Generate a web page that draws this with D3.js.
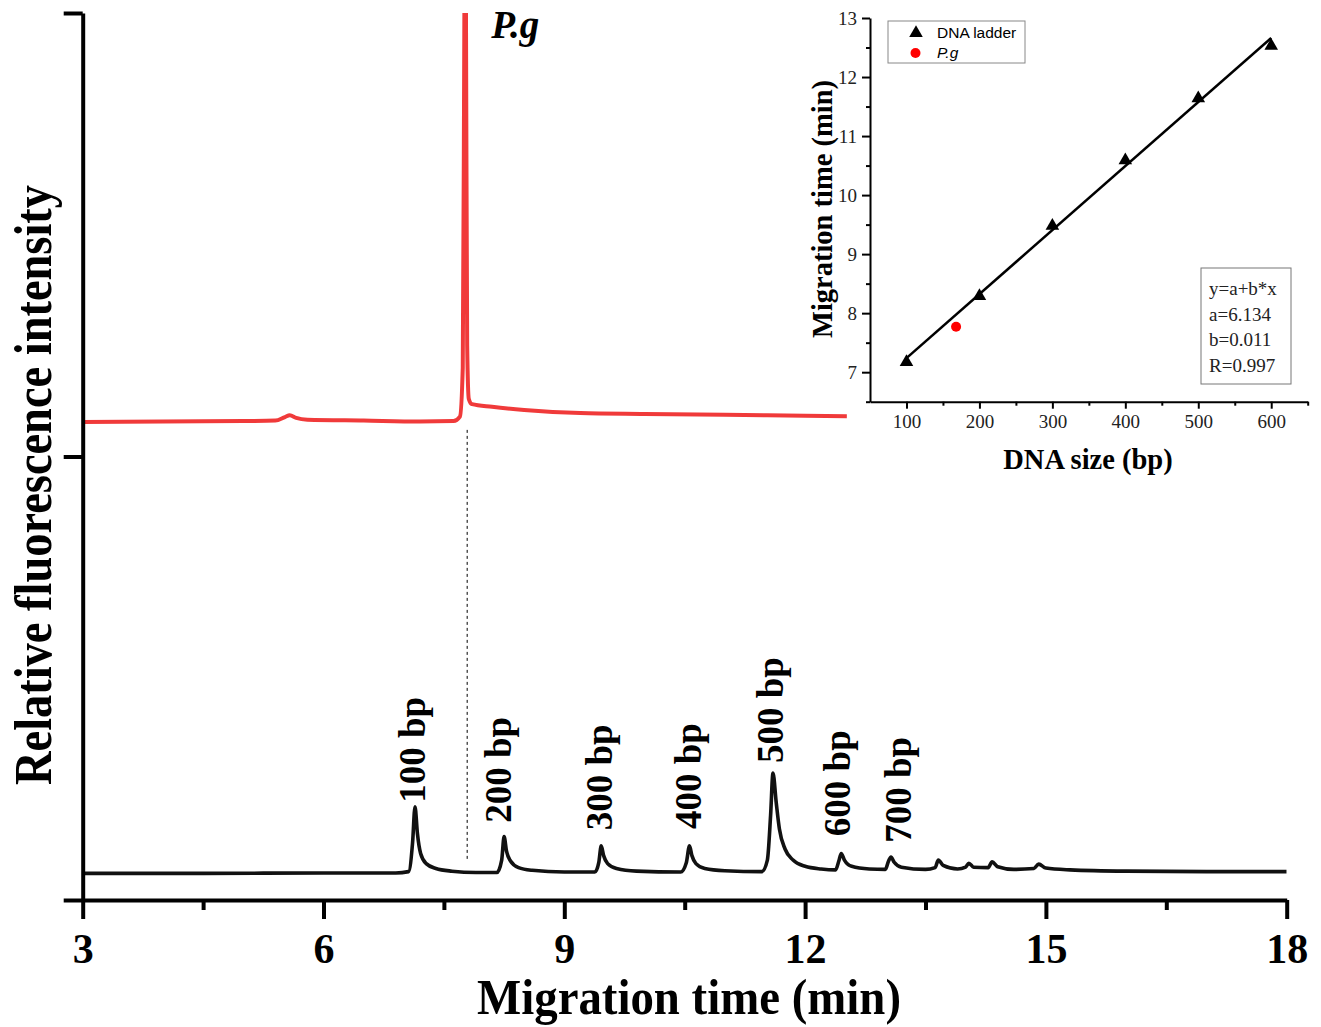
<!DOCTYPE html>
<html>
<head>
<meta charset="utf-8">
<script src="https://cdn.jsdelivr.net/npm/d3@7"></script>
<style>
  body { margin: 0; background: #fff; }
  svg { display: block; }
  .serif { font-family: "Liberation Serif", "Times New Roman", serif; }
</style>
</head>
<body>
<svg id="chart" width="1321" height="1027"></svg>
<script>
// main electropherogram: time (min) vs relative intensity
const xTicks = [3, 6, 9, 12, 15, 18];
const xMinor = [4.5, 7.5, 10.5, 13.5, 16.5];
const yTicks = [0, 100, 200];

// ladder trace (black)
const ladderTrace = [
  [3.0, 6.0], [4.5, 6.0], [6.0, 6.1], [6.9, 6.1], [7.06, 6.4], [7.11, 13], [7.14, 21.0],
  [7.17, 15], [7.21, 10.5], [7.28, 8.2], [7.40, 7.1], [7.60, 6.5], [7.90, 6.2],
  [8.16, 6.2], [8.22, 9.0], [8.25, 14.3], [8.28, 11.0], [8.33, 8.8], [8.43, 7.3],
  [8.60, 6.7], [9.00, 6.3], [9.38, 6.3], [9.43, 8.5], [9.46, 12.2], [9.49, 10.0],
  [9.54, 8.2], [9.65, 7.1], [9.90, 6.5], [10.45, 6.3], [10.52, 8.4], [10.56, 12.2],
  [10.59, 10.0], [10.64, 8.2], [10.75, 7.1], [11.0, 6.6], [11.46, 6.4], [11.53, 9.0],
  [11.57, 19.0], [11.60, 28.6], [11.64, 22.0], [11.68, 16.0], [11.75, 11.5],
  [11.85, 9.0], [12.0, 7.6], [12.2, 7.0], [12.38, 6.8], [12.42, 8.8], [12.45, 10.5],
  [12.49, 9.0], [12.58, 7.6], [12.8, 7.0], [13.0, 6.9], [13.04, 8.8], [13.07, 9.7],
  [13.11, 8.5], [13.2, 7.4], [13.5, 6.9], [13.62, 7.3], [13.66, 9.0], [13.72, 7.8],
  [13.9, 7.0], [14.0, 7.4], [14.04, 8.3], [14.10, 7.4], [14.28, 7.3], [14.33, 8.6],
  [14.40, 7.5], [14.6, 6.9], [14.85, 7.1], [14.91, 8.1], [15.0, 7.2], [15.3, 6.8],
  [16.0, 6.5], [17.0, 6.4], [18.0, 6.4]
];

// P.g sample trace (red)
const sampleTrace = [
  [3.0, 107.8], [4.0, 107.9], [5.0, 108.0], [5.40, 108.1], [5.52, 108.9], [5.58, 109.3],
  [5.66, 108.7], [5.80, 108.3], [6.5, 108.1], [7.2, 107.9], [7.62, 108.0], [7.70, 109.0],
  [7.735, 120], [7.755, 200], [7.765, 240], [7.775, 200], [7.79, 125], [7.81, 113],
  [7.85, 111.8], [8.1, 111.2], [8.5, 110.5], [9.2, 109.8], [10.0, 109.6], [11.0, 109.4],
  [12.0, 109.2], [12.52, 109.1]
];
const pgPeakTime = 7.79;

const peakLabels = ["100 bp", "200 bp", "300 bp", "400 bp", "500 bp", "600 bp", "700 bp"];
const labelTime = [7.264, 8.336, 9.594, 10.703, 11.725, 12.559, 13.319];
const labelLevel = [21.9, 17.4, 15.7, 16.0, 30.9, 14.4, 12.9];

// inset: calibration curve
const ladderSize = [100, 200, 300, 400, 500, 600];
const ladderTime = [7.17, 8.29, 9.48, 10.59, 11.64, 12.53];
const pgSize = [168];
const pgTime = [7.77];
const insetXTicks = [100, 200, 300, 400, 500, 600];
const insetXMinor = [150, 250, 350, 450, 550, 650];
const insetYTicks = [7, 8, 9, 10, 11, 12, 13];
const insetYMinor = [6.5, 7.5, 8.5, 9.5, 10.5, 11.5, 12.5];
const fitText = ["y=a+b*x", "a=6.134", "b=0.011", "R=0.997"];

const svg = d3.select("#chart");
const red = "#f03a3a";

// ---------- main chart ----------
const x = d3.scaleLinear().domain([3, 18]).range([82.7, 1286.7]);
const y = d3.scaleLinear().domain([0, 200]).range([900, 13]);

svg.append("defs").append("clipPath").attr("id", "plotClip")
  .append("rect")
  .attr("x", x(3)).attr("y", y(200))
  .attr("width", x(18) - x(3)).attr("height", y(0) - y(200));

const line = d3.line().x(d => x(d[0])).y(d => y(d[1])).curve(d3.curveMonotoneX);

// dotted guide under the P.g peak
svg.append("line")
  .attr("x1", x(pgPeakTime)).attr("x2", x(pgPeakTime))
  .attr("y1", y(106)).attr("y2", y(9))
  .attr("stroke", "#000").attr("stroke-width", 1)
  .attr("stroke-dasharray", "3,3");

svg.append("path")
  .datum(ladderTrace)
  .attr("d", line)
  .attr("clip-path", "url(#plotClip)")
  .attr("fill", "none").attr("stroke", "#111")
  .attr("stroke-width", 3.6).attr("stroke-linejoin", "round");

svg.append("path")
  .datum(sampleTrace)
  .attr("d", line)
  .attr("clip-path", "url(#plotClip)")
  .attr("fill", "none").attr("stroke", red)
  .attr("stroke-width", 4).attr("stroke-linejoin", "round");

// axes
const xAxis = svg.append("g")
  .attr("transform", `translate(0,${y(0)})`)
  .call(d3.axisBottom(x).tickValues(xTicks).tickSize(19).tickSizeOuter(0).tickFormat(d3.format("d")));
svg.append("g")
  .attr("transform", `translate(0,${y(0)})`)
  .call(d3.axisBottom(x).tickValues(xMinor).tickSize(10).tickSizeOuter(0).tickFormat(""))
  .call(g => g.select(".domain").remove());
svg.append("g")
  .attr("transform", `translate(${x(3)},0)`)
  .call(d3.axisLeft(y).tickValues(yTicks).tickSize(19).tickSizeOuter(0).tickFormat(""));

svg.selectAll(".domain").attr("stroke", "#000").attr("stroke-width", 4);
svg.selectAll(".tick line").attr("stroke", "#000").attr("stroke-width", 4);

xAxis.selectAll("text")
  .attr("y", 63).attr("dy", null)
  .attr("class", "serif")
  .style("font-size", "42px").style("font-weight", "bold").attr("fill", "#000");

// axis titles
svg.append("text")
  .attr("class", "serif")
  .attr("x", 689).attr("y", 1014)
  .attr("text-anchor", "middle")
  .attr("textLength", 424).attr("lengthAdjust", "spacingAndGlyphs")
  .style("font-size", "51px").style("font-weight", "bold")
  .text("Migration time (min)");

svg.append("text")
  .attr("class", "serif")
  .attr("transform", "translate(51,485) rotate(-90)")
  .attr("text-anchor", "middle")
  .attr("textLength", 600).attr("lengthAdjust", "spacingAndGlyphs")
  .style("font-size", "52px").style("font-weight", "bold")
  .text("Relative fluorescence intensity");

// peak labels
svg.selectAll(".peakLabel")
  .data(peakLabels)
  .enter()
  .append("text")
  .attr("class", "serif peakLabel")
  .attr("transform", (d, i) => `translate(${x(labelTime[i])},${y(labelLevel[i])}) rotate(-90)`)
  .style("font-size", "37px").style("font-weight", "bold")
  .text(d => d);

svg.append("text")
  .attr("class", "serif")
  .attr("x", x(pgPeakTime) + 24).attr("y", 38)
  .style("font-size", "39px").style("font-weight", "bold").style("font-style", "italic")
  .text("P.g");

// ---------- inset ----------
const xi = d3.scaleLinear().domain([50, 650]).range([870, 1307.7]);
const yi = d3.scaleLinear().domain([6.5, 13]).range([401.7, 18]);
const inset = svg.append("g");

const ixAxis = inset.append("g")
  .attr("transform", `translate(0,${yi(6.5)})`)
  .call(d3.axisBottom(xi).tickValues(insetXTicks).tickSize(7).tickSizeOuter(0).tickFormat(d3.format("d")));
inset.append("g")
  .attr("transform", `translate(0,${yi(6.5)})`)
  .call(d3.axisBottom(xi).tickValues(insetXMinor).tickSize(4).tickSizeOuter(0).tickFormat(""))
  .call(g => g.select(".domain").remove());
const iyAxis = inset.append("g")
  .attr("transform", `translate(${xi(50)},0)`)
  .call(d3.axisLeft(yi).tickValues(insetYTicks).tickSize(8).tickSizeOuter(0).tickFormat(d3.format("d")));
inset.append("g")
  .attr("transform", `translate(${xi(50)},0)`)
  .call(d3.axisLeft(yi).tickValues(insetYMinor).tickSize(4).tickSizeOuter(0).tickFormat(""))
  .call(g => g.select(".domain").remove());

inset.selectAll(".domain").attr("stroke", "#000").attr("stroke-width", 2);
inset.selectAll(".tick line").attr("stroke", "#000").attr("stroke-width", 2);
inset.selectAll(".tick text")
  .attr("class", "serif")
  .style("font-size", "19px").attr("fill", "#222");
ixAxis.selectAll("text").attr("y", 26).attr("dy", null);
iyAxis.selectAll("text").attr("x", -13).attr("dy", "0.34em");

inset.append("text")
  .attr("class", "serif")
  .attr("x", 1088).attr("y", 469)
  .attr("text-anchor", "middle")
  .style("font-size", "28.5px").style("font-weight", "bold")
  .text("DNA size (bp)");

inset.append("text")
  .attr("class", "serif")
  .attr("transform", "translate(832,209) rotate(-90)")
  .attr("text-anchor", "middle")
  .style("font-size", "28.5px").style("font-weight", "bold")
  .text("Migration time (min)");

// linear fit from the ladder points
const mx = d3.mean(ladderSize), my = d3.mean(ladderTime);
const b = d3.sum(ladderSize, (s, i) => (s - mx) * (ladderTime[i] - my)) /
          d3.sum(ladderSize, s => (s - mx) * (s - mx));
const a = my - b * mx;
const fitEnds = [d3.min(ladderSize), d3.max(ladderSize)];
inset.append("line")
  .attr("x1", xi(fitEnds[0])).attr("y1", yi(a + b * fitEnds[0]))
  .attr("x2", xi(fitEnds[1])).attr("y2", yi(a + b * fitEnds[1]))
  .attr("stroke", "#000").attr("stroke-width", 2.5);

const tri = d3.symbol().type(d3.symbolTriangle).size(80);
inset.selectAll(".ladderPt")
  .data(ladderSize)
  .enter()
  .append("path")
  .attr("class", "ladderPt")
  .attr("d", tri)
  .attr("transform", (d, i) => `translate(${xi(d)},${yi(ladderTime[i])})`)
  .attr("fill", "#000");

inset.selectAll(".pgPt")
  .data(pgSize)
  .enter()
  .append("circle")
  .attr("cx", d => xi(d)).attr("cy", (d, i) => yi(pgTime[i]))
  .attr("r", 5).attr("fill", "#f00");

// legend
const legend = inset.append("g");
legend.append("rect")
  .attr("x", 888).attr("y", 21).attr("width", 137).attr("height", 42)
  .attr("fill", "#fff").attr("stroke", "#888").attr("stroke-width", 1);
legend.append("path").attr("d", tri).attr("transform", "translate(916,33)").attr("fill", "#000");
legend.append("circle").attr("cx", 915.5).attr("cy", 53).attr("r", 5).attr("fill", "#f00");
legend.append("text")
  .attr("x", 937).attr("y", 38)
  .style("font-family", "'Liberation Sans', Arial, sans-serif").style("font-size", "15.5px")
  .text("DNA ladder");
legend.append("text")
  .attr("x", 937).attr("y", 58)
  .style("font-family", "'Liberation Sans', Arial, sans-serif").style("font-size", "15.5px")
  .style("font-style", "italic")
  .text("P.g");

// fit result box
const eq = inset.append("g");
eq.append("rect")
  .attr("x", 1201).attr("y", 268).attr("width", 90).attr("height", 116)
  .attr("fill", "#fff").attr("stroke", "#777").attr("stroke-width", 1);
eq.selectAll("text")
  .data(fitText)
  .enter()
  .append("text")
  .attr("class", "serif")
  .attr("x", 1209).attr("y", (d, i) => 295 + i * 25.7)
  .style("font-size", "19px").attr("fill", "#222")
  .text(d => d);
</script>
</body>
</html>
